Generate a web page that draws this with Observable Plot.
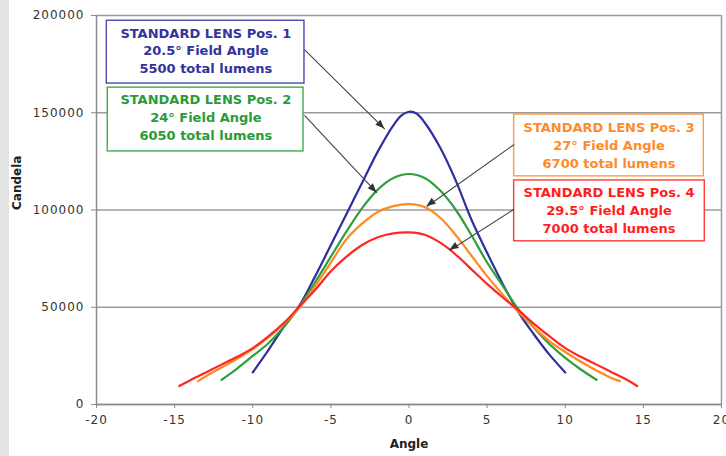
<!DOCTYPE html>
<html>
<head>
<meta charset="utf-8">
<script src="https://cdn.jsdelivr.net/npm/d3@7"></script>
<script src="https://cdn.jsdelivr.net/npm/@observablehq/plot@0.6"></script>
<style>
  html, body { margin: 0; padding: 0; background: #fff; }
  #chart { width: 726px; height: 456px; overflow: hidden; }
  #chart svg { display: block; background: linear-gradient(to right, #e3e3e3 9px, #ffffff 9px); }
  #chart svg g[aria-label$="tick label"] text { letter-spacing: 1px; }
</style>
</head>
<body>
<div id="chart"></div>
<script>
// ---- data ----
const pos1Angle   = [-10, -9, -8, -7, -6, -5, -4, -3, -2, -1, -0.5, 0, 0.5, 1, 2, 3, 4, 5, 6, 7, 8, 9, 10];
const pos1Candela = [16500, 28000, 40000, 51000, 66000, 82000, 98000, 114000, 130000, 143500, 148500, 150500, 149500, 145000, 132000, 115000, 95000, 78000, 62000, 47500, 36000, 25500, 16500];

const pos2Angle   = [-12, -11, -10, -9, -8, -7, -6, -5, -4, -3, -2, -1, 0, 1, 2, 3, 4, 5, 6, 7, 8, 9, 10, 11, 12];
const pos2Candela = [12700, 18500, 25000, 31500, 40000, 50500, 63000, 76000, 89000, 101000, 110500, 116500, 118500, 116500, 110000, 100000, 87000, 73000, 61000, 49000, 39500, 31000, 24000, 18000, 12700];

const pos3Angle   = [-13.5, -13, -12, -11, -10, -9, -8, -7, -6, -5, -4, -3, -2, -1, 0, 1, 2, 3, 4, 5, 6, 7, 8, 9, 10, 11, 12, 13, 13.5];
const pos3Candela = [12000, 14500, 19000, 23500, 28500, 34500, 41500, 50000, 61000, 73000, 85000, 93000, 99000, 102000, 103000, 101500, 96000, 87000, 76500, 66000, 56500, 47500, 39500, 32500, 27000, 22000, 17500, 13500, 12000];

const pos4Angle   = [-14.7, -14, -13, -12, -11, -10, -9, -8, -7, -6, -5, -4, -3, -2, -1, 0, 1, 2, 3, 4, 5, 6, 7, 8, 9, 10, 11, 12, 13, 14, 14.6];
const pos4Candela = [9500, 12500, 16500, 20500, 24500, 29000, 35000, 42000, 50500, 59000, 68500, 76000, 82000, 86000, 88000, 88500, 87300, 83200, 77000, 69500, 62000, 55000, 48500, 41500, 35000, 29000, 24500, 20500, 16500, 12500, 9500];

const seriesNames = ["STANDARD LENS Pos. 1", "STANDARD LENS Pos. 2", "STANDARD LENS Pos. 3", "STANDARD LENS Pos. 4"];
const fieldAngles = ["20.5°", "24°", "27°", "29.5°"];
const totalLumens = [5500, 6050, 6700, 7000];

const xTicks = [-20, -15, -10, -5, 0, 5, 10, 15, 20];
const yTicks = [0, 50000, 100000, 150000, 200000];
const xLabel = "Angle";
const yLabel = "Candela";

// ---- layout (annotation boxes & arrows, in data units) ----
const layout = {
  boxes: [
    {x1: -19.34, x2: -6.69, y1: 165000, y2: 197300, tx: -13.0, ty: 182400},
    {x1: -19.28, x2: -6.75, y1: 130100, y2: 162900, tx: -13.0, ty: 148300},
    {x1: 6.73,  x2: 18.87, y1: 117300, y2: 149100, tx: 12.8,  ty: 133600},
    {x1: 6.73,  x2: 18.93, y1: 83900,  y2: 115200, tx: 12.8,  ty: 100200}
  ],
  arrows: [
    {x1: -6.69, y1: 182400, x2: -1.55, y2: 141600},
    {x1: -6.69, y1: 148600, x2: -2.05, y2: 108800},
    {x1: 6.73,  y1: 133700, x2: 1.15,  y2: 101800},
    {x1: 6.73,  y1: 100400, x2: 2.62,  y2: 79300}
  ]
};
const lineColors = ["#2f2f9e", "#2f9e3c", "#ff8a1c", "#ff2626"];
const boxStroke  = ["#4a4ab0", "#3fae4c", "#ff9a40", "#ff3a3a"];
const textColors = ["#33339c", "#2a9a38", "#ff8a2a", "#ff1e1e"];

// ---- build tables ----
const series = [
  [pos1Angle, pos1Candela], [pos2Angle, pos2Candela],
  [pos3Angle, pos3Candela], [pos4Angle, pos4Candela]
];
const rows = series.flatMap(([a, c], i) => a.map((x, j) => ({series: seriesNames[i], angle: x, candela: c[j]})));
const notes = seriesNames.map((name, i) => ({
  series: name,
  text: `${name}\n${fieldAngles[i]} Field Angle\n${totalLumens[i]} total lumens`,
  ...layout.boxes[i],
  stroke: boxStroke[i],
  color: textColors[i]
}));
const arrows = layout.arrows;

// filled arrow heads, placed through the plot's own scales
function arrowHeads(index, scales) {
  const g = d3.create("svg:g").attr("fill", "#333");
  for (const a of arrows) {
    const x1 = scales.x(a.x1), y1 = scales.y(a.y1), x2 = scales.x(a.x2), y2 = scales.y(a.y2);
    const ang = Math.atan2(y2 - y1, x2 - x1);
    const L = 9, W = 3.6;
    const bx = x2 - L * Math.cos(ang), by = y2 - L * Math.sin(ang);
    const s = Math.sin(ang), c = Math.cos(ang);
    g.append("path").attr("d", `M${x2},${y2}L${bx + W * s},${by - W * c}L${bx - W * s},${by + W * c}Z`);
  }
  return g.node();
}

const chart = Plot.plot({
  width: 726,
  height: 456,
  marginLeft: 96,
  marginRight: 5,
  marginTop: 15,
  marginBottom: 52,
  style: {fontFamily: "'DejaVu Sans', sans-serif", fontSize: "12px", color: "#333"},
  x: {domain: [-20, 20]},
  y: {domain: [0, 200000]},
  color: {domain: seriesNames, range: lineColors},
  marks: [
    Plot.gridY(yTicks, {stroke: "#9a9a9a", strokeOpacity: 1, strokeWidth: 1.4}),
    Plot.ruleX([-20], {stroke: "#8a8a8a", strokeWidth: 1.5}),
    Plot.ruleX([20], {stroke: "#9a9a9a", strokeWidth: 1.5}),
    Plot.ruleY([0], {stroke: "#8a8a8a", strokeWidth: 1.5}),
    Plot.axisX({ticks: xTicks, tickSize: 4, tickPadding: 7, label: null, stroke: "#8a8a8a", fill: "#333", tickFormat: d => String(d)}),
    Plot.axisY({ticks: yTicks, tickSize: 5, tickPadding: 7, label: null, stroke: "#8a8a8a", fill: "#333", tickFormat: d => String(d)}),
    Plot.text([yLabel], {frameAnchor: "left", dx: -79, rotate: -90, fontWeight: "bold", fontSize: 12, fill: "#222"}),
    Plot.text([xLabel], {frameAnchor: "bottom", dy: 43, fontWeight: "bold", fontSize: 12, fill: "#222"}),
    Plot.line(rows, {x: "angle", y: "candela", z: "series", stroke: "series", strokeWidth: 2.2, curve: "catmull-rom"}),
    Plot.rect(notes, {x1: "x1", x2: "x2", y1: "y1", y2: "y2", fill: "white", stroke: d => d.stroke, strokeWidth: 1.4}),
    Plot.text(notes, {x: "tx", y: "ty", text: "text", fill: d => d.color, fontWeight: "bold", fontSize: 13, lineHeight: 1.38}),
    Plot.link(arrows, {x1: "x1", y1: "y1", x2: "x2", y2: "y2", stroke: "#444", strokeWidth: 1.1}),
    arrowHeads
  ]
});
document.getElementById("chart").append(chart);
</script>
</body>
</html>
